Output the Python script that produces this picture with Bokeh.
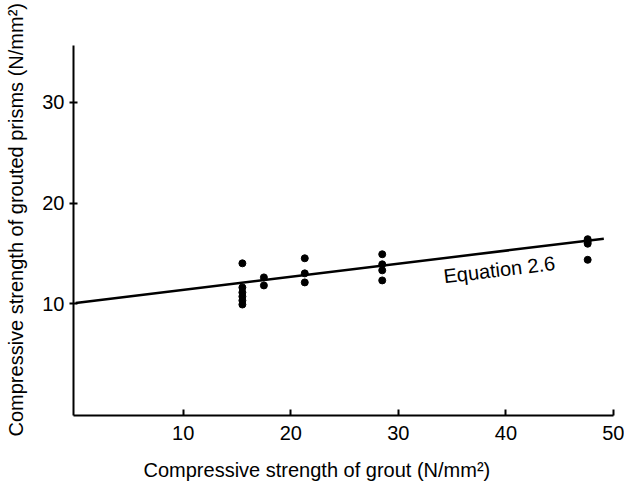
import math
from bokeh.plotting import figure
from bokeh.models import Range1d, Label, FixedTicker, Title
from bokeh.embed import file_html
from bokeh.resources import INLINE

# data
grout_15 = [15.5] * 6
prism_15 = [14.0, 11.6, 11.1, 10.7, 10.3, 9.9]
grout_17 = [17.5] * 2
prism_17 = [12.6, 11.8]
grout_21 = [21.3] * 3
prism_21 = [14.5, 13.0, 12.1]
grout_29 = [28.5] * 4
prism_29 = [14.9, 13.9, 13.3, 12.3]
grout_48 = [47.6] * 4
prism_48 = [16.4, 16.15, 15.95, 14.35]

line_x = [0.0, 49.1]
line_y = [10.05, 16.45]

x_ticks = [10, 20, 30, 40, 50]
y_ticks = [10, 20, 30]

xs = grout_15 + grout_17 + grout_21 + grout_29 + grout_48
ys = prism_15 + prism_17 + prism_21 + prism_29 + prism_48

FONT = "Liberation Sans"

p = figure(width=624, height=483, output_backend="svg", toolbar_location=None,
           x_range=Range1d(-0.2, 50), y_range=Range1d(-1.14, 35.67),
           min_border_left=73, min_border_right=11, min_border_top=45, min_border_bottom=68)
p.outline_line_color = None
p.grid.grid_line_color = None

p.line(line_x, line_y, line_color="black", line_width=2.5)
p.scatter(xs, ys, size=7, color="black")

for ax in (p.xaxis[0], p.yaxis[0]):
    ax.axis_line_width = 2
    ax.axis_line_color = "black"
    ax.major_tick_line_color = "black"
    ax.major_tick_line_width = 2
    ax.minor_tick_line_color = None
    ax.major_label_text_font = FONT
    ax.major_label_text_font_size = "20px"
    ax.major_label_text_color = "black"

p.xaxis[0].ticker = FixedTicker(ticks=x_ticks)
p.yaxis[0].ticker = FixedTicker(ticks=y_ticks)
p.xaxis[0].major_tick_in = 6
p.xaxis[0].major_tick_out = 0
p.xaxis[0].major_label_standoff = 10
p.yaxis[0].major_tick_in = 4
p.yaxis[0].major_tick_out = 4
p.yaxis[0].major_label_standoff = 5

# thin spacers between the axes and their titles
p.add_layout(Title(text=" ", text_font_size="1px", standoff=11), "below")
p.add_layout(Title(text=" ", text_font_size="1px", standoff=10), "left")

p.add_layout(Title(text="Compressive strength of grout (N/mm²)", align="left", offset=70,
                   vertical_align="bottom", standoff=0,
                   text_font=FONT, text_font_size="20px", text_font_style="normal",
                   text_color="black"), "below")
p.add_layout(Title(text="Compressive strength of grouted prisms (N/mm²)", align="left", offset=-21,
                   vertical_align="bottom", standoff=0,
                   text_font=FONT, text_font_size="20px", text_font_style="normal",
                   text_color="black"), "left")
p.add_layout(Label(x=34.2, y=12.7, angle=0.12,
                   text="Equation 2.6", text_font=FONT,
                   text_font_size="20px", text_color="black",
                   text_align="left", text_baseline="alphabetic"))

open("out.html", "w").write(file_html(p, INLINE))
